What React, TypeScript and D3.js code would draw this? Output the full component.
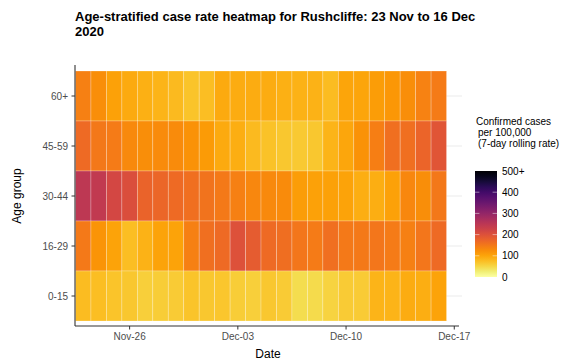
import React from "react";
import * as d3 from "d3";

const ageGroups = ["60+", "45-59", "30-44", "16-29", "0-15"];
const startDate = new Date(Date.UTC(2020, 10, 23));
const endDate = new Date(Date.UTC(2020, 11, 16));
const tickDates = ["2020-11-26", "2020-12-03", "2020-12-10", "2020-12-17"];
const legendTicks = [0, 100, 200, 300, 400, 500];

const rate60plus = [140, 125, 105, 95, 88, 85, 80, 70, 75, 95, 92, 92, 92, 88, 86, 86, 78, 100, 100, 108, 115, 125, 138, 145];
const rate45to59 = [165, 150, 145, 130, 125, 128, 128, 120, 110, 95, 90, 80, 72, 65, 63, 65, 85, 98, 120, 142, 160, 160, 172, 195];
const rate30to44 = [248, 242, 215, 205, 175, 170, 165, 160, 155, 148, 140, 132, 130, 128, 108, 104, 104, 102, 90, 90, 104, 132, 125, 150];
const rate16to29 = [148, 118, 102, 75, 87, 103, 103, 140, 160, 165, 200, 185, 165, 162, 152, 145, 160, 148, 148, 152, 145, 140, 152, 165];
const rate0to15 = [78, 75, 70, 65, 57, 60, 62, 70, 66, 67, 60, 57, 66, 62, 44, 45, 54, 62, 62, 85, 85, 92, 91, 102];

const seriesByAge: Record<string, number[]> = {
  "60+": rate60plus,
  "45-59": rate45to59,
  "30-44": rate30to44,
  "16-29": rate16to29,
  "0-15": rate0to15,
};

const W = 571;
const H = 361;
const FONT = "'Liberation Sans', Arial, Helvetica, sans-serif";

export default function App() {
  const days = d3.utcDay.range(startDate, d3.utcDay.offset(endDate, 1));
  const x = d3
    .scaleUtc()
    .domain([d3.utcHour.offset(startDate, -12), d3.utcHour.offset(d3.utcDay.offset(endDate, 1), 12)])
    .range([75.5, 462]);
  const y = d3.scaleBand<string>().domain(ageGroups).range([66, 326]).paddingOuter(0.1).paddingInner(0);
  const color = d3
    .scaleSequential((t: number) => d3.interpolateInferno(1 - t))
    .domain([0, 500])
    .clamp(true);
  const legY = d3.scaleLinear().domain([0, 500]).range([277, 171]);

  const cells: { d: Date; age: string; v: number }[] = [];
  ageGroups.forEach((age) => {
    seriesByAge[age].forEach((v, i) => cells.push({ d: days[i], age, v }));
  });

  const gradStops = d3.range(0, 1.0001, 0.05);
  const ticks = tickDates.map((s) => new Date(s + "T00:00:00Z"));
  const fmt = d3.utcFormat("%b-%d");
  const panelLeft = 75;
  const panelRight = 462;
  const panelBottom = 326;

  return (
    <svg
      width={W}
      height={H}
      style={{ position: "absolute", left: 0, top: 0, background: "#fff" }}
      fontFamily={FONT}
    >
      <defs>
        <linearGradient id="leg" x1="0" y1="1" x2="0" y2="0">
          {gradStops.map((t) => (
            <stop key={t} offset={t} stopColor={color(t * 500)} />
          ))}
        </linearGradient>
      </defs>
      <rect width={W} height={H} fill="#fff" />

      {/* title */}
      <text x={75} y={21} fontSize={13} fontWeight="bold" fill="#000">
        Age-stratified case rate heatmap for Rushcliffe: 23 Nov to 16 Dec
      </text>
      <text x={75} y={35.5} fontSize={13} fontWeight="bold" fill="#000">
        2020
      </text>

      {/* grid lines */}
      {ageGroups.map((a) => (
        <line
          key={a}
          x1={panelLeft}
          x2={panelRight}
          y1={(y(a) as number) + y.bandwidth() / 2}
          y2={(y(a) as number) + y.bandwidth() / 2}
          stroke="#EBEBEB"
          strokeWidth={1}
        />
      ))}

      {/* tiles */}
      {cells.map((c, i) => {
        const x0 = x(d3.utcHour.offset(c.d, -12));
        const x1 = x(d3.utcHour.offset(c.d, 12));
        return (
          <rect
            key={i}
            x={x0}
            y={y(c.age)}
            width={x1 - x0}
            height={y.bandwidth()}
            fill={color(c.v)}
            stroke="#ffffff"
            strokeOpacity={0.35}
            strokeWidth={0.7}
          />
        );
      })}

      {/* axes */}
      <line x1={panelLeft} x2={panelLeft} y1={65} y2={panelBottom} stroke="#333" strokeWidth={1.1} />
      <line x1={panelLeft} x2={panelRight - 3} y1={panelBottom} y2={panelBottom} stroke="#333" strokeWidth={1.1} />
      {ageGroups.map((a) => {
        const cy = (y(a) as number) + y.bandwidth() / 2;
        return (
          <g key={a}>
            <line x1={panelLeft - 3.5} x2={panelLeft} y1={cy} y2={cy} stroke="#333" strokeWidth={1} />
            <text x={68} y={cy} fontSize={10} fill="#4D4D4D" textAnchor="end" dominantBaseline="central">
              {a}
            </text>
          </g>
        );
      })}
      {ticks.map((t) => (
        <g key={t.toISOString()}>
          <line x1={x(t)} x2={x(t)} y1={panelBottom} y2={panelBottom + 3.5} stroke="#333" strokeWidth={1} />
          <text x={x(t)} y={340} fontSize={10} fill="#4D4D4D" textAnchor="middle">
            {fmt(t)}
          </text>
        </g>
      ))}

      {/* axis titles */}
      <text x={268} y={358} fontSize={12} fill="#000" textAnchor="middle">
        Date
      </text>
      <text transform="translate(21,196) rotate(-90)" fontSize={12} fill="#000" textAnchor="middle">
        Age group
      </text>

      {/* legend */}
      <text fontSize={10} fill="#000">
        <tspan x={476} y={125}>Confirmed cases</tspan>
        <tspan x={478} y={136}>per 100,000</tspan>
        <tspan x={478} y={147}>(7-day rolling rate)</tspan>
      </text>
      <rect x={475} y={legY(500)} width={22} height={legY(0) - legY(500)} fill="url(#leg)" />
      {legendTicks.map((v) => (
        <g key={v}>
          {v > 0 && v < 500 && (
            <>
              <line x1={475} x2={479.4} y1={legY(v)} y2={legY(v)} stroke="#fff" strokeOpacity={0.6} strokeWidth={0.8} />
              <line x1={492.6} x2={497} y1={legY(v)} y2={legY(v)} stroke="#fff" strokeOpacity={0.6} strokeWidth={0.8} />
            </>
          )}
          <text x={502} y={legY(v)} fontSize={10} fill="#000" dominantBaseline="central">
            {v === 500 ? "500+" : String(v)}
          </text>
        </g>
      ))}
    </svg>
  );
}
